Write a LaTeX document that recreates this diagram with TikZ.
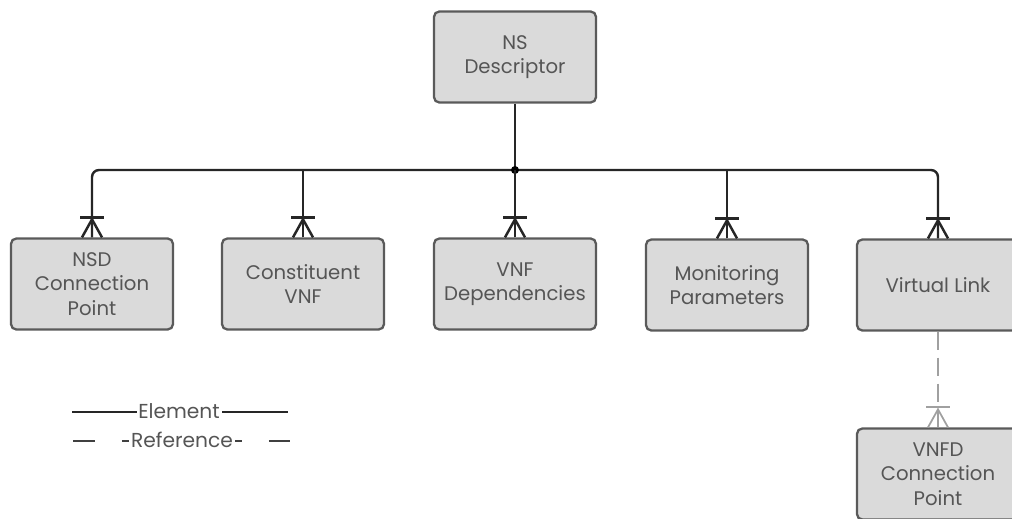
\documentclass[tikz,border=0pt]{standalone}
\usepackage{fontspec}
\setmainfont{Poppins}
\usepackage{xcolor}
\usetikzlibrary{positioning}

\definecolor{boxfill}{HTML}{DADADA}
\definecolor{boxline}{HTML}{5A5A5A}
\definecolor{txtgray}{HTML}{555555}
\definecolor{refgray}{HTML}{A0A0A0}

\tikzset{
    ent/.style={draw=boxline, fill=boxfill, rounded corners=3pt, line width=1.3pt,
        minimum width=3.24cm, minimum height=1.82cm, align=center, text=txtgray,
        font=\fontsize{11.2}{14}\selectfont},
    elem/.style={draw=black!85, line width=1.4pt},
    refl/.style={draw=refgray, line width=1pt, dash pattern=on 0.36cm off 0.16cm},
    legend/.style={text=txtgray, fill=white, inner sep=1pt, font=\fontsize{11.5}{12}\selectfont}
}

% crow's foot (one or many) at the top of a node
\newcommand{\crowfoot}[2][elem]{%
    \draw[#1] (#2.north) ++(-10,0) -- ++(10,-18) -- ++(10,18);
    \draw[#1] (#2.north) -- ++(0,-18);
    \draw[#1] (#2.north) ++(-12,-20) -- ++(24,0);%
}

\begin{document}
\begin{tikzpicture}[x=0.02cm, y=-0.02cm]
        \useasboundingbox (0,0) rectangle (1012,518);

        \node[ent] (nsd) at (515,57) {NS\\Descriptor};

        \node[ent] (cp)  at (92,284)  {NSD\\Connection\\Point};
        \node[ent] (vnf) at (303,284) {Constituent\\VNF};
        \node[ent] (dep) at (515,284) {VNF\\Dependencies};
        \node[ent] (mon) at (727,285) {Monitoring\\Parameters};
        \node[ent] (vl)  at (938,285) {Virtual Link};

        \node[ent] (vnfdcp) at (938,474) {VNFD\\Connection\\Point};

        \coordinate (bus) at (515,170);

        \draw[elem, rounded corners=4pt] (cp.north) |- (bus) -| (vl.north);
        \draw[elem] (nsd) -- (bus);
        \fill[black] (bus) circle (4);
        \foreach \n in {vnf,dep,mon}
            \draw[elem] (\n.north) -- (\n.north |- bus);
        \foreach \n in {cp,vnf,dep,mon,vl} {\crowfoot{\n}}

        \draw[refl] (vl) -- (vnfdcp);
        \crowfoot[draw=refgray, line width=1pt]{vnfdcp}

        % legend
        \coordinate (e1) at (72,412);
        \coordinate (e2) at (288,412);
        \coordinate (r1) at (73,441);
        \coordinate (r2) at (290,441);
        \draw[elem] (e1) -- (e2);
        \draw[draw=black!75, line width=1.2pt, dash pattern=on 0.44cm off 0.54cm] (r1) -- (r2);
        \node[legend] (el) at (179,411) {Element};
        \node[legend] (rf) at (182,440) {Reference};
    \end{tikzpicture}
\end{document}
